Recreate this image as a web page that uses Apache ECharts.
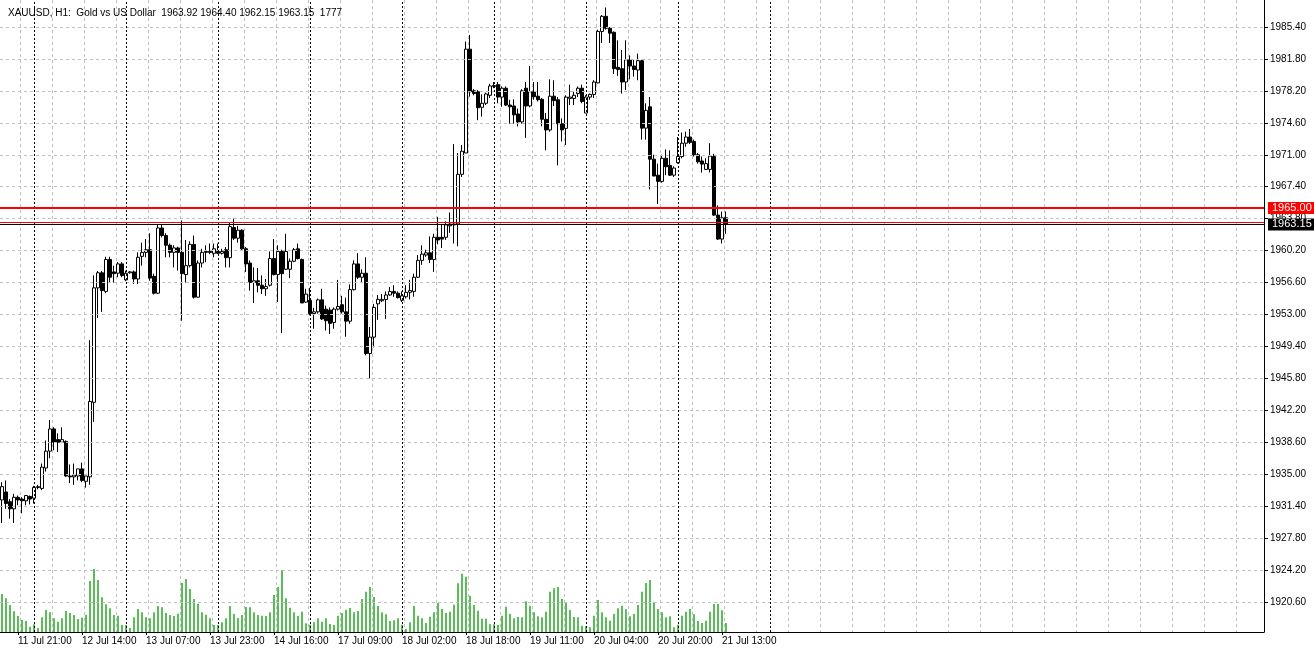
<!DOCTYPE html>
<html>
<head>
<meta charset="utf-8">
<script src="https://cdn.jsdelivr.net/npm/echarts@6/dist/echarts.min.js"></script>
<style>
  html, body { margin: 0; padding: 0; background: #fff; }
  #main { width: 1314px; height: 650px; }
</style>
</head>
<body>
<div id="main"></div>
<script>
var chartDom = document.getElementById('main');
var myChart = echarts.init(chartDom);

// hourly bars, oldest first
const opens = [1932.1,1933.0,1931.9,1931.1,1932.4,1932.2,1932.0,1932.5,1932.3,1933.5,1933.4,1935.7,1937.6,1940.1,1938.9,1938.6,1938.7,1934.8,1934.7,1934.8,
  1935.6,1934.2,1934.7,1943.1,1956.0,1957.7,1955.6,1959.2,1957.8,1957.65,1958.7,1956.9,1957.7,1957.8,1957.0,1959.55,1960.0,1960.3,1957.3,1955.4,
  1962.75,1961.9,1960.8,1960.0,1960.5,1960.0,1957.5,1958.5,1960.9,1954.95,1958.8,1960.0,1960.1,1959.9,1960.1,1959.9,1960.3,1959.4,1962.8,1961.6,
  1962.5,1960.4,1958.8,1956.6,1956.8,1956.3,1955.9,1956.3,1959.3,1957.5,1960.1,1958.1,1958.1,1959.0,1960.4,1959.2,1954.4,1954.6,1953.1,1953.3,
  1954.65,1953.6,1953.5,1952.1,1953.6,1954.1,1953.3,1952.25,1955.8,1958.7,1957.2,1957.65,1948.6,1950.45,1954.2,1954.55,1954.7,1955.2,1955.6,1955.4,
  1954.6,1955.0,1955.5,1955.6,1957.2,1959.1,1959.7,1959.95,1959.2,1961.7,1961.7,1961.7,1963.0,1963.1,1963.2,1968.8,1971.2,1982.9,1978.2,1978.1,
  1976.35,1976.8,1977.7,1978.7,1978.9,1977.5,1978.5,1976.6,1976.5,1975.6,1974.7,1978.5,1976.5,1978.1,1977.6,1977.25,1975.0,1973.8,1977.6,1977.2,
  1974.5,1973.975,1977.35,1977.35,1977.9,1978.5,1975.7,1977.5,1977.8,1979.1,1984.9,1986.6,1985.25,1984.8,1980.85,1980.7,1979.2,1981.7,1981.0,1980.55,
  1981.6,1974.0,1976.4,1970.5,1968.7,1968.0,1970.6,1969.8,1968.7,1970.1,1970.8,1972.3,1973.0,1972.5,1971.0,1970.3,1969.35,1969.35,1970.8,1964.2,
  1961.5,1963.9];
const closes = [1933.6,1931.7,1931.1,1932.4,1932.1,1932.0,1932.6,1932.2,1933.5,1933.6,1935.8,1937.6,1940.1,1938.6,1938.6,1938.9,1934.8,1934.7,1934.9,1935.6,
  1934.3,1934.8,1943.2,1956.0,1957.7,1955.7,1959.2,1957.2,1957.6,1958.7,1957.4,1957.65,1957.8,1957.0,1959.45,1960.0,1960.3,1957.1,1955.4,1962.75,
  1961.9,1960.8,1960.0,1960.5,1960.0,1957.6,1958.5,1960.9,1954.95,1958.8,1960.0,1960.1,1960.0,1960.4,1959.9,1960.1,1959.4,1962.9,1961.6,1962.5,
  1960.4,1958.7,1956.6,1956.8,1956.3,1955.9,1956.15,1959.3,1957.5,1960.1,1957.6,1960.1,1959.0,1960.3,1959.3,1954.3,1955.3,1953.1,1953.3,1954.65,
  1952.5,1952.3,1952.0,1953.6,1953.9,1953.3,1952.25,1955.8,1958.7,1957.2,1957.65,1948.6,1950.45,1953.8,1954.7,1954.7,1955.2,1955.6,1955.4,1954.9,
  1955.1,1955.5,1955.7,1957.2,1959.1,1959.8,1959.95,1959.2,1961.7,1961.4,1961.5,1963.1,1963.2,1963.2,1968.8,1971.4,1982.9,1978.1,1977.9,1976.3,
  1976.8,1977.85,1978.75,1978.8,1977.5,1978.5,1976.6,1976.4,1975.5,1974.7,1978.2,1976.5,1978.1,1977.55,1977.2,1975.0,1973.8,1977.6,1977.1,1974.5,
  1973.8,1977.5,1977.5,1977.7,1978.5,1977.0,1977.5,1977.8,1979.2,1984.9,1986.6,1985.25,1984.7,1980.7,1980.6,1979.2,1981.7,1981.0,1980.6,1981.6,
  1974.0,1976.0,1970.5,1968.6,1968.0,1970.6,1969.65,1968.7,1969.5,1970.8,1972.3,1973.0,1972.4,1971.0,1970.2,1969.95,1970.0,1970.85,1964.2,1961.5,
  1963.9,1963.15];
const lows = [1929.5,1931.1,1930.0,1929.5,1931.5,1930.6,1931.5,1931.6,1931.7,1933.3,1933.2,1935.3,1936.8,1937.7,1937.5,1938.5,1934.7,1934.0,1933.8,1934.3,
  1934.1,1933.5,1933.8,1940.9,1952.6,1953.3,1955.4,1956.6,1956.6,1957.2,1957.2,1956.75,1957.6,1956.45,1956.45,1958.5,1959.45,1956.8,1955.25,1955.3,
  1961.7,1959.45,1959.45,1958.3,1957.95,1952.3,1956.6,1958.3,1954.8,1954.9,1958.3,1958.9,1959.8,1959.45,1959.8,1959.75,1958.3,1958.3,1961.4,1961.1,
  1960.2,1957.8,1955.7,1954.3,1955.5,1955.3,1955.1,1956.15,1957.4,1954.4,1950.9,1958.0,1957.1,1958.9,1959.2,1954.3,1954.3,1952.9,1951.4,1953.1,
  1952.4,1951.2,1950.8,1951.4,1953.45,1953.1,1950.5,1951.95,1955.7,1957.0,1956.6,1948.4,1945.8,1949.3,1952.4,1954.4,1952.5,1955.1,1955.0,1954.8,
  1954.4,1954.8,1954.7,1955.0,1957.1,1958.6,1959.5,1958.8,1957.8,1960.9,1960.5,1961.4,1962.2,1961.0,1960.7,1968.5,1971.2,1977.55,1977.7,1974.9,
  1975.3,1976.6,1977.4,1978.5,1976.8,1976.4,1976.5,1974.5,1974.5,1974.2,1974.5,1972.9,1976.35,1977.2,1977.0,1974.2,1971.5,1973.6,1976.5,1969.8,
  1972.5,1972.1,1976.6,1976.6,1977.5,1976.8,1975.7,1977.2,1977.4,1979.05,1983.6,1985.1,1983.6,1980.1,1979.9,1977.9,1978.3,1979.5,1979.8,1979.4,
  1972.7,1972.7,1967.1,1968.6,1965.45,1967.85,1968.7,1968.6,1968.5,1970.0,1970.6,1971.9,1972.2,1970.8,1970.0,1969.0,1969.3,1969.0,1964.1,1961.4,
  1961.0,1962.1];
const highs = [1934.1,1934.3,1932.2,1932.8,1932.6,1932.4,1932.6,1932.6,1933.7,1933.8,1936.2,1938.8,1941.1,1940.3,1939.6,1940.3,1938.8,1936.1,1936.2,1935.6,
  1936.3,1934.8,1950.1,1957.4,1957.9,1957.9,1959.5,1959.5,1958.5,1958.9,1958.9,1957.95,1957.9,1957.95,1960.0,1961.1,1961.5,1962.15,1957.6,1963.2,
  1963.2,1962.15,1961.0,1960.8,1960.65,1963.6,1961.4,1961.25,1961.9,1959.1,1960.4,1960.8,1961.0,1961.0,1961.0,1960.4,1960.6,1963.4,1963.8,1963.0,
  1962.6,1960.6,1959.1,1958.3,1958.25,1957.4,1957.0,1960.1,1961.5,1960.8,1960.3,1962.1,1959.3,1960.5,1961.0,1959.3,1955.9,1956.0,1953.75,1954.8,
  1955.9,1954.0,1953.8,1953.8,1956.9,1955.1,1954.9,1956.4,1959.1,1959.9,1958.1,1959.45,1951.6,1954.2,1955.2,1955.3,1955.6,1956.1,1956.3,1955.6,
  1955.6,1956.3,1956.9,1957.6,1959.7,1960.8,1960.3,1961.8,1962.1,1964.0,1963.1,1963.5,1964.5,1972.2,1971.2,1972.1,1983.75,1984.5,1978.4,1978.3,
  1977.8,1978.0,1979.0,1979.2,1979.2,1978.7,1978.7,1977.2,1977.25,1976.2,1978.4,1979.2,1981.0,1979.2,1979.2,1977.4,1975.7,1979.5,1979.4,1977.5,
  1975.1,1977.7,1978.9,1978.1,1978.7,1978.9,1977.7,1977.9,1979.4,1985.1,1986.75,1987.6,1985.4,1984.9,1983.9,1982.8,1983.9,1982.2,1981.7,1982.4,
  1981.7,1976.8,1977.5,1971.0,1970.0,1971.0,1971.6,1971.5,1969.7,1973.0,1973.5,1973.6,1973.9,1972.7,1971.2,1970.8,1970.6,1972.3,1971.1,1965.3,
  1964.6,1964.6];
const volumes = [114,101,81,62,48,36,33,16,23,12,44,66,59,41,31,41,63,57,51,39,43,52,153,189,156,104,83,71,51,49,21,21,12,44,69,59,44,41,59,78,
  74,57,51,48,55,147,159,129,99,85,59,52,41,21,21,29,41,78,54,42,51,75,74,59,51,49,48,59,111,135,186,101,73,59,48,61,26,22,29,41,
  31,41,24,21,49,57,67,72,59,63,99,121,135,105,78,59,53,33,35,41,22,9,29,78,49,41,27,46,59,87,69,57,61,82,146,175,166,109,81,64,
  40,40,23,23,21,49,76,54,41,45,44,92,79,59,47,44,61,121,131,135,99,87,66,45,44,19,18,14,49,96,59,44,34,54,71,79,68,47,54,81,
  121,147,156,89,69,59,44,47,14,22,49,61,69,53,33,27,34,61,84,84,65,27];

const totalSlots = 316;
// day separators (dotted black)
const separatorIdx = [8, 31, 54, 77, 100, 123, 146, 169, 192];
// time scale labels
const labelIdx = [4, 20, 36, 52, 68, 84, 100, 116, 132, 148, 164, 180];
const labelText = ['11 Jul 21:00','12 Jul 14:00','13 Jul 07:00','13 Jul 23:00','14 Jul 16:00','17 Jul 09:00',
  '18 Jul 02:00','18 Jul 18:00','19 Jul 11:00','20 Jul 04:00','20 Jul 20:00','21 Jul 13:00'];
const priceTicks = [1920.6,1924.2,1927.8,1931.4,1935.0,1938.6,1942.2,1945.8,1949.4,1953.0,1956.6,1960.2,1963.8,1967.4,1971.0,1974.6,1978.2,1981.8,1985.4];
const levelRed = 1965.00, levelAsk = 1963.45, levelBid = 1963.15;

const cats = [];
for (let i = 0; i < totalSlots; i++) cats.push(i);
const candles = opens.map((o, i) => [o, closes[i], lows[i], highs[i]]);

const font = 'Liberation Sans';
const markData = [];
priceTicks.forEach(p => markData.push({ yAxis: p, lineStyle: { color: '#c0c0c0', type: [3, 3], width: 1 }, label: { show: false } }));
separatorIdx.forEach(ix => markData.push({ xAxis: ix, lineStyle: { color: '#000', type: [2, 2], width: 1 }, label: { show: false } }));
markData.push({ yAxis: levelAsk, lineStyle: { color: '#ff0000', type: 'solid', width: 1 }, label: { show: false } });
markData.push({ yAxis: levelBid, lineStyle: { color: '#000', type: 'solid', width: 1 },
  label: { show: true, position: 'end', distance: 4, formatter: levelBid.toFixed(2), color: '#fff', backgroundColor: '#000', padding: [1, 4, 0, 4], fontFamily: font, fontSize: 11 } });
markData.push({ yAxis: levelRed, lineStyle: { color: '#ff0000', type: 'solid', width: 2 },
  label: { show: true, position: 'end', distance: 4, formatter: levelRed.toFixed(2), color: '#fff', backgroundColor: '#ff0000', padding: [1, 4, 0, 4], fontFamily: font, fontSize: 11 } });

var option = {
  animation: false,
  backgroundColor: '#fff',
  title: {
    text: 'XAUUSD, H1:  Gold vs US Dollar  1963.92 1964.40 1962.15 1963.15  1777',
    left: 3, top: 3,
    textStyle: { fontFamily: font, fontSize: 10, fontWeight: 'normal', color: '#000' }
  },
  grid: { left: 0, right: 50, top: 0, bottom: 18 },
  xAxis: {
    type: 'category',
    data: cats,
    boundaryGap: true,
    axisLine: { lineStyle: { color: '#000' } },
    axisTick: { show: true, alignWithLabel: true, interval: (i) => labelIdx.includes(i), length: 3, lineStyle: { color: '#000' } },
    splitLine: { show: true, interval: (i) => (i - 5) % 8 === 0, lineStyle: { color: '#c0c0c0', type: [3, 3] } },
    axisLabel: {
      interval: (i) => labelIdx.includes(i),
      formatter: (v) => labelText[labelIdx.indexOf(Number(v))] || '',
      align: 'left',
      fontFamily: font, fontSize: 10, color: '#000', margin: 4
    }
  },
  yAxis: [{
    type: 'value',
    position: 'right',
    min: 1917.22,
    max: 1988.44,
    axisLine: { show: true, lineStyle: { color: '#000' } },
    axisTick: { show: true, customValues: priceTicks, length: 4, lineStyle: { color: '#000' } },
    axisLabel: { customValues: priceTicks, formatter: (v) => v.toFixed(2), fontFamily: font, fontSize: 10, color: '#000', margin: 6 },
    splitLine: { show: false }
  }, {
    type: 'value',
    min: 0,
    max: 1896,
    show: false,
    splitLine: { show: false }
  }],
  series: [{
    type: 'bar',
    yAxisIndex: 1,
    data: volumes,
    barWidth: 1.3,
    itemStyle: { color: '#009a00' },
    silent: true
  }, {
    type: 'candlestick',
    data: candles,
    barWidth: 3,
    itemStyle: { color: '#fff', color0: '#000', borderColor: '#000', borderColor0: '#000', borderWidth: 1 },
    markLine: { silent: true, symbol: 'none', animation: false, data: markData },
    silent: true
  }]
};

option && myChart.setOption(option);
</script>
</body>
</html>
